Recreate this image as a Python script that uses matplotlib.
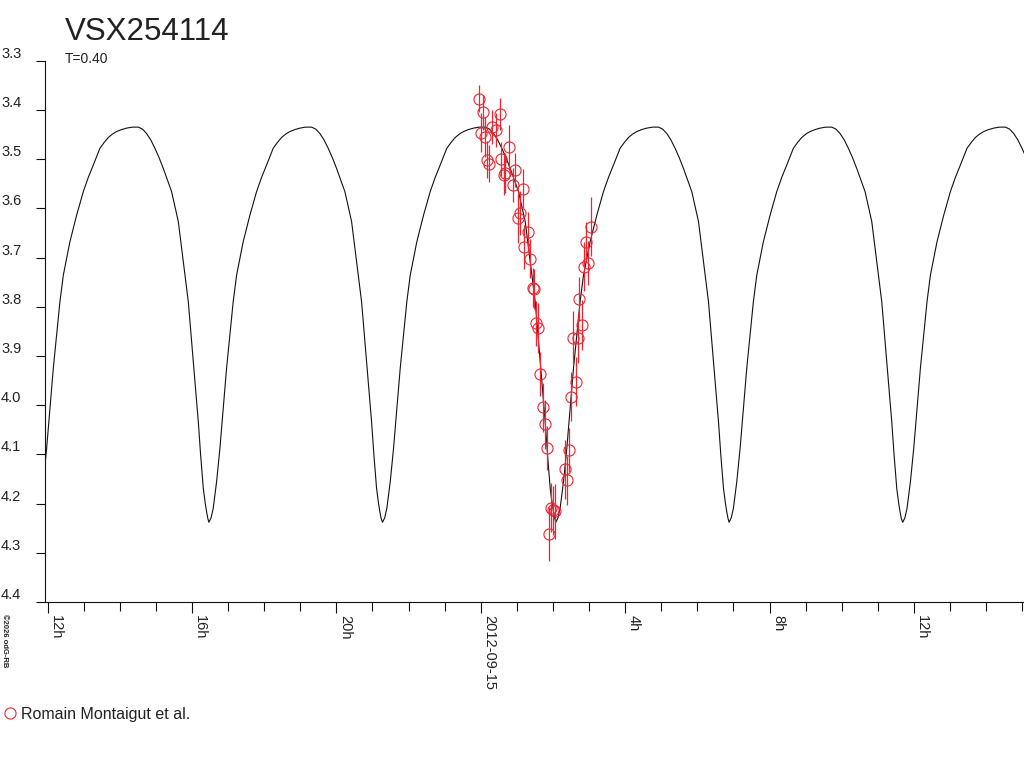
import numpy as np
import matplotlib
matplotlib.use('Agg')
import matplotlib.pyplot as plt
import matplotlib.transforms as mtrans

plt.rcParams['font.family'] = ['Liberation Sans', 'DejaVu Sans']

RED = '#ee2530'
TXT = '#222222'

# model light curve: one cycle (hours after a minimum, mag)
shape_dt = [0.0, 0.060, 0.119, 0.213, 0.305, 0.396, 0.490, 0.582, 0.673, 0.767,
            0.950, 1.136, 1.321, 1.460, 1.598, 1.781, 1.900, 2.014, 2.130, 2.244,
            2.380, 2.521, 2.680, 2.845, 2.960, 3.075, 3.190, 3.305, 3.420, 3.537,
            3.767, 3.953, 4.091, 4.230, 4.321, 4.413, 4.507, 4.571, 4.645, 4.700,
            4.737, 4.770]
shape_mag = [4.238, 4.229, 4.210, 4.156, 4.088, 4.007, 3.925, 3.858, 3.790, 3.736,
             3.668, 3.614, 3.566, 3.537, 3.512, 3.478, 3.466, 3.456, 3.449, 3.444,
             3.440, 3.437, 3.435, 3.435, 3.439, 3.448, 3.461, 3.478, 3.497, 3.519,
             3.566, 3.627, 3.709, 3.790, 3.871, 3.952, 4.034, 4.101, 4.169, 4.200,
             4.217, 4.230]
# times of minima, hours from 2012-09-15 0h
minima_h = [-12.33, -7.53, -2.72, 2.08, 6.88, 11.69]

# observations (Romain Montaigut et al.)
obs_t = [-0.047, 0.064, 0.535, 0.313, 0.416, 0.017, 0.111, 0.776, 0.183, 0.238,
         0.571, 0.665, 0.645, 0.942, 0.886, 1.172, 1.089, 1.042, 1.319, 1.208,
         1.366, 1.457, 1.485, 1.532, 1.596, 1.651, 1.712, 1.781, 1.831, 1.942,
         2.011, 2.058, 1.886, 2.335, 2.385, 2.454, 2.501, 2.632, 2.565, 2.704,
         2.798, 2.731, 2.862, 2.981, 2.917, 3.047]
obs_mag = [3.377, 3.405, 3.408, 3.435, 3.441, 3.446, 3.455, 3.476, 3.501, 3.509,
           3.500, 3.528, 3.532, 3.522, 3.553, 3.560, 3.610, 3.620, 3.648, 3.678,
           3.702, 3.761, 3.764, 3.834, 3.843, 3.936, 4.004, 4.039, 4.087, 4.208,
           4.214, 4.216, 4.261, 4.130, 4.153, 4.091, 3.983, 3.952, 3.864, 3.864,
           3.837, 3.784, 3.719, 3.711, 3.668, 3.637]
obs_err = [0.028, 0.035, 0.033, 0.035, 0.035, 0.040, 0.040, 0.045, 0.037, 0.037,
           0.035, 0.040, 0.040, 0.034, 0.034, 0.040, 0.045, 0.050, 0.040, 0.045,
           0.040, 0.040, 0.040, 0.045, 0.050, 0.045, 0.050, 0.050, 0.045, 0.050,
           0.050, 0.055, 0.055, 0.060, 0.050, 0.045, 0.050, 0.050, 0.055, 0.050,
           0.050, 0.045, 0.050, 0.045, 0.040, 0.060]

major_h = [-12, -8, -4, 0, 4, 8, 12]
major_lbl = ['12h', '16h', '20h', '2012-09-15', '4h', '8h', '12h']
minor_h = list(range(-12, 16))
y_ticks = [3.3, 3.4, 3.5, 3.6, 3.7, 3.8, 3.9, 4.0, 4.1, 4.2, 4.3, 4.4]

W, H = 1024, 768
fig = plt.figure(figsize=(W / 100, H / 100), dpi=100)
ax = fig.add_axes([45 / W, (H - 602) / H, 979 / W, 541.3 / H])

curve_t = np.concatenate([m + np.array(shape_dt) for m in minima_h])
curve_m = np.tile(shape_mag, len(minima_h))
ax.plot(curve_t, curve_m, color='#111111', lw=0.8, zorder=2)

ax.errorbar(obs_t, obs_mag, yerr=obs_err, fmt='none', ecolor=RED, elinewidth=0.9,
            capsize=0, zorder=3)
ax.plot(obs_t, obs_mag, 'o', mfc='none', mec=RED, ms=8, mew=0.8, zorder=4)

ax.set_xlim(-12.07, 15.05)
ax.set_ylim(4.4, 3.3)

for s in ['top', 'right']:
    ax.spines[s].set_visible(False)
for s in ['left', 'bottom']:
    ax.spines[s].set_linewidth(0.8)
    ax.spines[s].set_color('#111111')

ax.set_yticks(y_ticks)
ax.set_yticklabels([])
ax.tick_params(axis='y', direction='out', length=6.5, width=0.8, color='#111111')
ax.set_xticks(major_h)
ax.set_xticks(minor_h, minor=True)
ax.set_xticklabels([])
ax.tick_params(axis='x', which='major', direction='out', length=8, width=0.8, color='#111111')
ax.tick_params(axis='x', which='minor', direction='out', length=6.5, width=0.8, color='#111111')

ytr = mtrans.blended_transform_factory(fig.transFigure, ax.transData)
for v in y_ticks:
    ax.text(0.001, v, f'{v:.1f}', transform=ytr, ha='left', va='bottom',
            fontsize=10.5, color=TXT)

xtr = mtrans.blended_transform_factory(ax.transData, fig.transFigure)
for v, lbl in zip(major_h, major_lbl):
    ax.text(v + 0.04, 1 - 615 / H, lbl, transform=xtr, rotation=270, ha='left',
            va='top', fontsize=10.5, color=TXT)

fig.text(65 / W, 1 - 39.5 / H, 'VSX254114', fontsize=22.5, color=TXT, va='baseline')
fig.text(65 / W, 1 - 63 / H, 'T=0.40', fontsize=10, color=TXT, va='baseline')
fig.text(1 / W, 1 - 614 / H, '\u00a92026 odG-RB', rotation=270, ha='left', va='top',
         fontsize=5.5, fontweight='bold', color=TXT)

ax.plot([10 / W], [1 - 713 / H], 'o', mfc='none', mec=RED, ms=8, mew=0.8,
        transform=fig.transFigure, clip_on=False)
fig.text(21 / W, 1 - 719.5 / H, 'Romain Montaigut et al.', fontsize=11.5, color=TXT,
         va='baseline')

fig.savefig('out.png', dpi=100)
